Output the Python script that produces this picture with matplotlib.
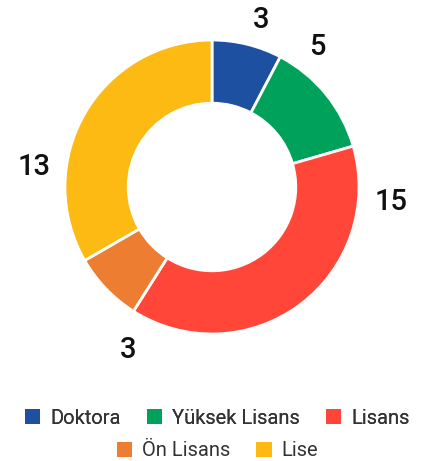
import numpy as np
import matplotlib.pyplot as plt
from matplotlib.patches import Patch

plt.rcParams['font.family'] = ['Roboto', 'DejaVu Sans']

categories = ['Doktora', 'Yüksek Lisans', 'Lisans', 'Ön Lisans', 'Lise']
values = [3, 5, 15, 3, 13]
colors = ['#1E50A2', '#00A15A', '#FF4639', '#ED7D31', '#FCBA13']

# where the value labels sit, degrees clockwise from 12 o'clock
label_angles = [16, 36, 93, 208, 278]

fig = plt.figure(figsize=(4.35, 4.61), dpi=100)

# donut centre ~ (212, 187) px, outer radius ~147 px
cx, cy, r = 212, 187, 147
ax = fig.add_axes([(cx - r) / 435, (461 - cy - r) / 461, 2 * r / 435, 2 * r / 461])
ax.pie(
    values, colors=colors, startangle=90, counterclock=False,
    wedgeprops=dict(width=0.43, edgecolor='white', linewidth=2),
)
for v, a in zip(values, label_angles):
    t = np.deg2rad(a)
    ax.text(1.22 * np.sin(t), 1.22 * np.cos(t) - 0.035, str(v), ha='center', va='center',
            fontsize=21, fontweight='medium', color='#111111')
ax.set_xlim(-1, 1)
ax.set_ylim(-1, 1)
ax.set_aspect('equal')

handles = [Patch(facecolor=c, edgecolor='none') for c in colors]

leg1 = fig.legend(handles[:3], categories[:3], loc='center', bbox_to_anchor=(0.5, 0.093),
                  ncol=3, frameon=False, fontsize=14.5, handlelength=0.75, handleheight=0.75,
                  handletextpad=0.5, columnspacing=1.3, labelcolor='#333333')
fig.add_artist(leg1)
fig.legend(handles[3:], categories[3:], loc='center', bbox_to_anchor=(0.5, 0.022),
           ncol=2, frameon=False, fontsize=14.5, handlelength=0.75, handleheight=0.75,
           handletextpad=0.5, columnspacing=1.3, labelcolor='#333333')

fig.savefig('out.png', dpi=100)
